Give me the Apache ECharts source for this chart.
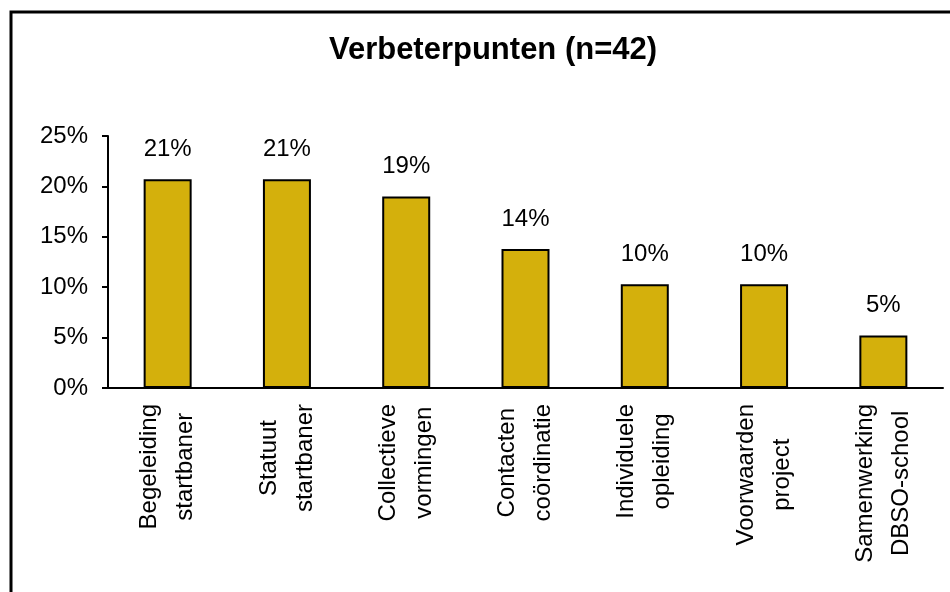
<!DOCTYPE html>
<html>
<head>
<meta charset="utf-8">
<script src="https://cdn.jsdelivr.net/npm/echarts@6/dist/echarts.min.js"></script>
<style>
  html, body { margin: 0; padding: 0; background: #fff; }
  #chart { width: 950px; height: 592px; }
</style>
</head>
<body>
<div id="chart"></div>
<script>
// categorieen (regel-einde = tweede lijn van het label)
const categories = [
  'Begeleiding\nstartbaner',
  'Statuut\nstartbaner',
  'Collectieve\nvormingen',
  'Contacten\ncoördinatie',
  'Individuele\nopleiding',
  'Voorwaarden\nproject',
  'Samenwerking\nDBSO-school',
];
// aandeel in %
const values = [20.7, 20.7, 19.0, 13.8, 10.3, 10.3, 5.2];
const yTicks = [0, 5, 10, 15, 20, 25];

const myChart = echarts.init(document.getElementById('chart'));
const option = {
  backgroundColor: '#fff',
  animation: false,
  title: {
    text: 'Verbeterpunten (n=42)',
    left: 488,
    textAlign: 'center',
    top: 30,
    textStyle: {
      fontFamily: 'Liberation Sans, Arial, sans-serif',
      fontWeight: 'bold',
      fontSize: 31,
      color: '#000',
    },
  },
  graphic: [{
    type: 'rect',
    shape: { x: 11, y: 12, width: 1000, height: 700 },
    style: { fill: 'none', stroke: '#000', lineWidth: 3 },
    silent: true,
  }],
  grid: {
    left: 108,
    right: 7,
    top: 136,
    bottom: 204,
  },
  xAxis: {
    type: 'category',
    data: categories,
    axisLine: { lineStyle: { color: '#000', width: 2 } },
    axisTick: { length: 7, lineStyle: { color: '#000', width: 2 } },
    axisLabel: {
      rotate: 90,
      interval: 0,
      margin: 16,
      formatter(v) {
        return v.split('\n').map((s) => '{c|' + s + '}').join('\n');
      },
      rich: {
        c: {
          align: 'center',
          fontFamily: 'Liberation Sans, Arial, sans-serif',
          fontSize: 24,
          lineHeight: 36,
          color: '#000',
        },
      },
    },
  },
  yAxis: {
    type: 'value',
    min: yTicks[0],
    max: yTicks[yTicks.length - 1],
    interval: 5,
    splitLine: { show: false },
    axisLine: { show: true, lineStyle: { color: '#000', width: 2 } },
    axisTick: { show: true, length: 6, lineStyle: { color: '#000', width: 2 } },
    axisLabel: {
      formatter: '{value}%',
      margin: 20,
      fontFamily: 'Liberation Sans, Arial, sans-serif',
      fontSize: 24,
      color: '#000',
    },
  },
  series: [{
    type: 'bar',
    data: values,
    barWidth: 48,
    itemStyle: {
      color: '#D4B00C',
      borderColor: '#000',
      borderWidth: 2,
    },
    label: {
      show: true,
      position: 'top',
      distance: 18,
      formatter: (p) => Math.round(p.value) + '%',
      fontFamily: 'Liberation Sans, Arial, sans-serif',
      fontSize: 24,
      color: '#000',
    },
  }],
};
myChart.setOption(option);
</script>
</body>
</html>
